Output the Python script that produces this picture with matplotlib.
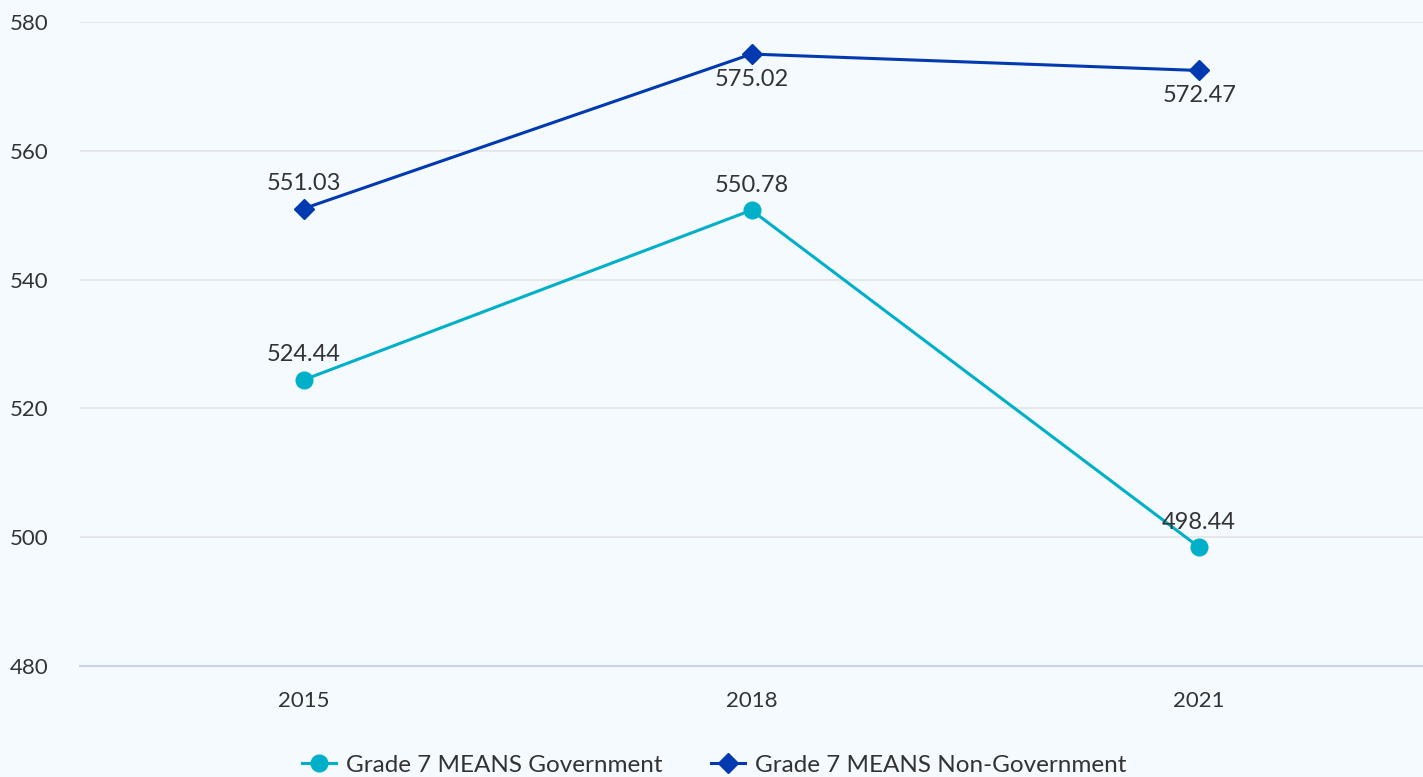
import matplotlib.pyplot as plt
import numpy as np

years = ["2015", "2018", "2021"]
government = [524.44, 550.78, 498.44]
non_government = [551.03, 575.02, 572.47]
gov_label_pos = ["above", "above", "above"]
nongov_label_pos = ["above", "below", "below"]

bg = "#F5FAFE"
gov_color = "#00B0C8"
nongov_color = "#0039B0"
text_color = "#333333"

plt.rcParams['font.family'] = ['Lato', 'DejaVu Sans']

fig = plt.figure(figsize=(14.23, 7.77), dpi=100, facecolor=bg)
ax = fig.add_axes([80 / 1423, 111 / 777, 1 - 80 / 1423, (666 - 22) / 777])
ax.set_facecolor(bg)

x = np.arange(len(years))
ax.plot(x, government, color=gov_color, lw=2.2, marker="o", ms=12,
        label="Grade 7 MEANS Government", zorder=3)
ax.plot(x, non_government, color=nongov_color, lw=2.2, marker="D", ms=10,
        label="Grade 7 MEANS Non-Government", zorder=3)

def annotate(vals, positions):
    for xi, v, p in zip(x, vals, positions):
        dy = 25 if p == "above" else -25
        ax.annotate(f"{v:.2f}", (xi, v), xytext=(0, dy), textcoords="offset pixels",
                    ha="center", va="center", fontsize=17, color=text_color, zorder=4)

annotate(government, gov_label_pos)
annotate(non_government, nongov_label_pos)

ax.set_xlim(-0.5, 2.5)
ax.set_ylim(480, 580)
ax.set_yticks([480, 500, 520, 540, 560, 580])
ax.set_xticks(x)
ax.set_xticklabels(years)
ax.grid(axis="y", color="#E2E4E6", lw=1.2, zorder=1)
for s in ["top", "right", "left"]:
    ax.spines[s].set_visible(False)
ax.spines["bottom"].set_color("#C8D4E8")
ax.spines["bottom"].set_linewidth(1.5)
ax.tick_params(axis="both", length=0, labelsize=16, colors=text_color)
ax.tick_params(axis="y", pad=23)
ax.tick_params(axis="x", pad=18)

leg = fig.legend(loc="center", bbox_to_anchor=(0.502, 12 / 777), ncol=2, frameon=False,
                 fontsize=17.5, labelcolor=text_color, handlelength=1.4, columnspacing=2.0,
                 handletextpad=0.4)

fig.savefig("out.png", dpi=100, facecolor=bg)
